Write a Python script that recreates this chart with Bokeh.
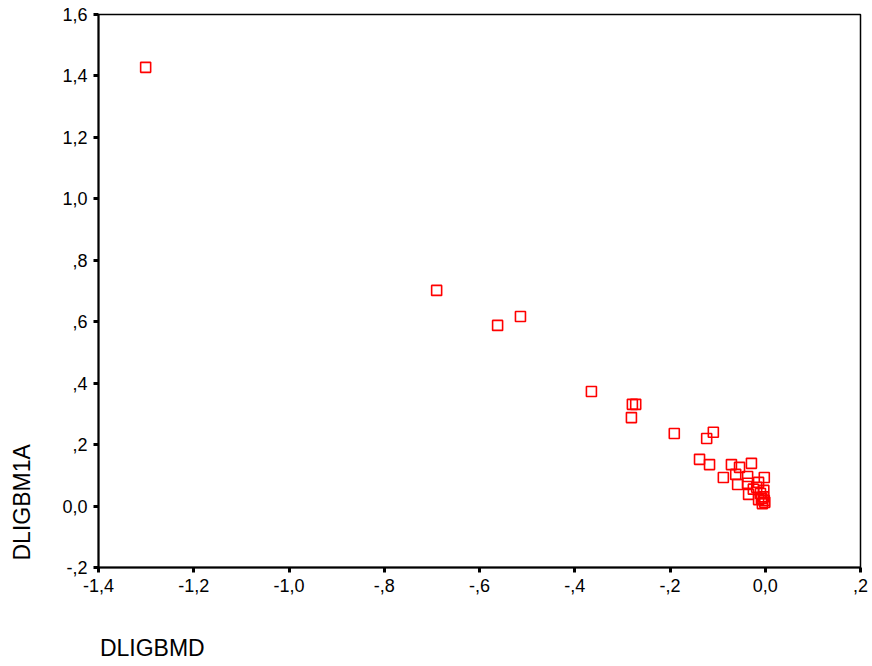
from bokeh.plotting import figure
from bokeh.models import FixedTicker, Range1d, LinearAxis
from bokeh.embed import file_html
from bokeh.resources import INLINE

# Data
dligbmd = [-1.301, -0.690, -0.562, -0.514, -0.365, -0.279, -0.272, -0.281, -0.191,
           -0.109, -0.123, -0.138, -0.117, -0.071, -0.054, -0.029, -0.088, -0.062,
           -0.037, -0.002, -0.058, -0.037, -0.014, -0.025, -0.018, -0.003, -0.010,
           -0.035, -0.014, -0.002, -0.006, -0.001, -0.004, -0.008]
dligbm1a = [1.428, 0.702, 0.588, 0.617, 0.373, 0.331, 0.331, 0.288, 0.236,
            0.240, 0.220, 0.152, 0.135, 0.135, 0.126, 0.139, 0.093, 0.103,
            0.096, 0.093, 0.070, 0.074, 0.077, 0.055, 0.061, 0.051, 0.041,
            0.038, 0.021, 0.018, 0.008, 0.012, 0.030, 0.025]

x_ticks = [-1.4, -1.2, -1.0, -0.8, -0.6, -0.4, -0.2, 0.0, 0.2]
x_tick_labels = ["-1,4", "-1,2", "-1,0", "-,8", "-,6", "-,4", "-,2", "0,0", ",2"]
y_ticks = [-0.2, 0.0, 0.2, 0.4, 0.6, 0.8, 1.0, 1.2, 1.4, 1.6]
y_tick_labels = ["-,2", "0,0", ",2", ",4", ",6", ",8", "1,0", "1,2", "1,4", "1,6"]
x_title = "DLIGBMD"
y_title = "DLIGBM1A"

FONT = "Liberation Sans"
# where the axis titles sit along their axes (start-aligned like the original)
X_TITLE_AT = -1.287
Y_TITLE_AT = 0.012

p = figure(width=872, height=666, output_backend="svg", toolbar_location=None,
           x_range=Range1d(-1.4, 0.2), y_range=Range1d(-0.2, 1.6),
           min_border_left=98, min_border_right=12, min_border_top=14,
           min_border_bottom=99)
p.grid.visible = False
p.outline_line_color = "black"
p.outline_line_width = 1.5
p.background_fill_color = "white"
p.border_fill_color = "white"

p.scatter(dligbmd, dligbm1a, marker="square", size=10, fill_color=None,
          line_color="#ff0000", line_width=1.6)

for ax, ticks, labels in ((p.xaxis[0], x_ticks, x_tick_labels),
                          (p.yaxis[0], y_ticks, y_tick_labels)):
    ax.ticker = FixedTicker(ticks=ticks)
    ax.major_label_overrides = {t: l for t, l in zip(ticks, labels)}
    ax.minor_tick_line_color = None
    ax.major_tick_in = 0
    ax.major_tick_out = 5
    ax.major_tick_line_width = 3
    ax.axis_line_width = 2
    ax.major_label_text_font = FONT
    ax.major_label_text_font_size = "18px"
    ax.major_label_text_color = "black"
    ax.major_label_standoff = 6


def title_axis(pos, text, standoff, orientation="horizontal"):
    return LinearAxis(ticker=FixedTicker(ticks=[pos]),
                      major_label_overrides={pos: text},
                      axis_line_color=None, major_tick_line_color=None,
                      minor_tick_line_color=None, major_tick_in=0, major_tick_out=0,
                      major_label_text_font=FONT, major_label_text_font_size="23px",
                      major_label_text_color="black",
                      major_label_standoff=standoff,
                      major_label_orientation=orientation)


p.add_layout(title_axis(X_TITLE_AT, x_title, 40), "below")
p.add_layout(title_axis(Y_TITLE_AT, y_title, 24, "vertical"), "left")

open("out.html", "w").write(file_html(p, INLINE))
